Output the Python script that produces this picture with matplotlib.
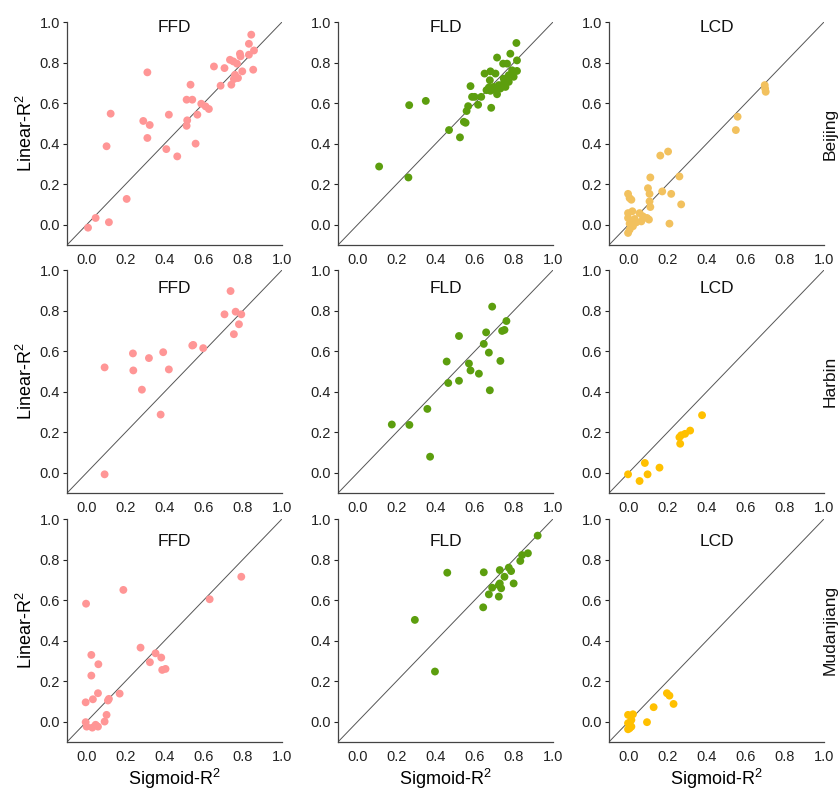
import matplotlib
matplotlib.use("Agg")
import matplotlib.pyplot as plt

plt.rcParams["font.family"] = ["Liberation Sans", "DejaVu Sans"]
plt.rcParams["mathtext.fontset"] = "custom"
plt.rcParams["mathtext.rm"] = "Liberation Sans"
plt.rcParams["mathtext.it"] = "Liberation Sans"
plt.rcParams["mathtext.default"] = "rm"

cities = ["Beijing", "Harbin", "Mudanjiang"]
indices = ["FFD", "FLD", "LCD"]

# Sigmoid-R2 (x) and Linear-R2 (y) per city / index
beijing_ffd_x = [0.843, 0.831, 0.857, 0.831, 0.785, 0.788, 0.734, 0.751, 0.652, 0.706,
                 0.853, 0.797, 0.775, 0.754, 0.741, 0.686, 0.311, 0.123, 0.532, 0.512,
                 0.541, 0.587, 0.609, 0.626, 0.421, 0.567, 0.290, 0.323, 0.515, 0.512,
                 0.102, 0.311, 0.558, 0.408, 0.464, 0.205, 0.046, 0.007, 0.114, 0.770,
                 0.760]
beijing_ffd_y = [0.938, 0.893, 0.860, 0.839, 0.844, 0.831, 0.814, 0.806, 0.781, 0.773,
                 0.765, 0.757, 0.724, 0.719, 0.691, 0.686, 0.752, 0.548, 0.691, 0.617,
                 0.617, 0.597, 0.584, 0.571, 0.543, 0.543, 0.512, 0.492, 0.515, 0.488,
                 0.387, 0.428, 0.400, 0.373, 0.337, 0.127, 0.033, -0.015, 0.012, 0.795,
                 0.740]

beijing_fld_x = [0.813, 0.782, 0.714, 0.745, 0.816, 0.578, 0.586, 0.599, 0.633, 0.617,
                 0.566, 0.558, 0.544, 0.553, 0.468, 0.524, 0.684, 0.714, 0.264, 0.349,
                 0.110, 0.260, 0.650, 0.680, 0.706, 0.677, 0.748, 0.791, 0.816, 0.799,
                 0.774, 0.748, 0.723, 0.697, 0.672, 0.731, 0.757, 0.680, 0.711, 0.660,
                 0.774, 0.765]
beijing_fld_y = [0.897, 0.844, 0.825, 0.795, 0.811, 0.684, 0.631, 0.631, 0.631, 0.592,
                 0.585, 0.561, 0.508, 0.503, 0.467, 0.431, 0.577, 0.644, 0.590, 0.611,
                 0.287, 0.233, 0.746, 0.757, 0.746, 0.713, 0.721, 0.762, 0.759, 0.730,
                 0.705, 0.697, 0.689, 0.680, 0.677, 0.672, 0.680, 0.661, 0.661, 0.664,
                 0.738, 0.795]

beijing_lcd_x = [0.697, 0.699, 0.702, 0.558, 0.549, 0.162, 0.202, 0.111, 0.260, 0.099,
                 0.107, 0.172, 0.218, -0.003, 0.005, 0.014, 0.269, 0.107, 0.111, 0.209,
                 -0.003, 0.019, -0.003, 0.056, 0.073, 0.094, 0.104, 0.065, 0.039, 0.022,
                 0.005, -0.003, 0.005, 0.031]
beijing_lcd_y = [0.689, 0.672, 0.656, 0.533, 0.467, 0.341, 0.361, 0.233, 0.238, 0.180,
                 0.152, 0.164, 0.152, 0.152, 0.131, 0.123, 0.100, 0.115, 0.087, 0.005,
                 0.057, 0.066, 0.033, 0.057, 0.041, 0.033, 0.025, 0.016, 0.011, -0.008,
                 -0.025, -0.041, 0.005, 0.028]

harbin_ffd_x = [0.737, 0.706, 0.763, 0.792, 0.780, 0.754, 0.597, 0.546, 0.541, 0.392,
                0.237, 0.319, 0.092, 0.239, 0.421, 0.283, 0.379, 0.092]
harbin_ffd_y = [0.897, 0.782, 0.795, 0.782, 0.733, 0.684, 0.615, 0.631, 0.628, 0.595,
                0.589, 0.566, 0.520, 0.505, 0.510, 0.410, 0.287, -0.008]

harbin_fld_x = [0.689, 0.762, 0.740, 0.752, 0.658, 0.519, 0.646, 0.672, 0.456, 0.731,
                0.570, 0.578, 0.621, 0.464, 0.519, 0.677, 0.357, 0.175, 0.265, 0.371]
harbin_fld_y = [0.820, 0.749, 0.700, 0.705, 0.693, 0.675, 0.636, 0.593, 0.549, 0.552,
                0.539, 0.505, 0.489, 0.443, 0.454, 0.407, 0.315, 0.238, 0.236, 0.079]

harbin_lcd_x = [0.376, 0.315, 0.289, 0.269, 0.260, 0.264, 0.083, 0.158, -0.003, 0.097,
                0.056]
harbin_lcd_y = [0.284, 0.208, 0.192, 0.185, 0.175, 0.143, 0.048, 0.025, -0.008, -0.008,
                -0.041]

mudanjiang_ffd_x = [0.792, 0.630, 0.188, -0.003, 0.276, 0.353, 0.324, 0.382, 0.387, 0.404,
                    0.024, 0.060, 0.024, 0.058, 0.032, -0.005, 0.169, 0.114, 0.109, 0.102,
                    0.092, -0.005, 0.000, 0.029, 0.046, 0.058]
mudanjiang_ffd_y = [0.715, 0.604, 0.650, 0.582, 0.365, 0.337, 0.293, 0.316, 0.255, 0.260,
                    0.329, 0.283, 0.227, 0.140, 0.110, 0.095, 0.138, 0.112, 0.104, 0.033,
                    0.000, -0.003, -0.025, -0.030, -0.016, -0.025]

mudanjiang_fld_x = [0.922, 0.872, 0.842, 0.833, 0.774, 0.728, 0.786, 0.646, 0.459, 0.752,
                    0.799, 0.728, 0.723, 0.735, 0.689, 0.672, 0.723, 0.643, 0.293, 0.396]
mudanjiang_fld_y = [0.918, 0.831, 0.822, 0.793, 0.760, 0.748, 0.743, 0.737, 0.735, 0.715,
                    0.682, 0.682, 0.674, 0.658, 0.661, 0.628, 0.617, 0.564, 0.502, 0.247]

mudanjiang_lcd_x = [0.196, 0.209, 0.230, 0.128, 0.094, -0.003, 0.022, 0.014, 0.005, 0.014,
                    -0.003, 0.005, -0.003]
mudanjiang_lcd_y = [0.140, 0.128, 0.087, 0.071, -0.003, 0.033, 0.036, 0.008, -0.008, -0.025,
                    -0.038, -0.033, -0.008]

series = [
    [(beijing_ffd_x, beijing_ffd_y), (beijing_fld_x, beijing_fld_y), (beijing_lcd_x, beijing_lcd_y)],
    [(harbin_ffd_x, harbin_ffd_y), (harbin_fld_x, harbin_fld_y), (harbin_lcd_x, harbin_lcd_y)],
    [(mudanjiang_ffd_x, mudanjiang_ffd_y), (mudanjiang_fld_x, mudanjiang_fld_y),
     (mudanjiang_lcd_x, mudanjiang_lcd_y)],
]

colours = [
    ["#ff9696", "#5c9e0e", "#f2c15e"],
    ["#ff9696", "#5c9e0e", "#ffc000"],
    ["#ff9696", "#5c9e0e", "#ffc000"],
]

ticks = [0.0, 0.2, 0.4, 0.6, 0.8, 1.0]
ax_left = [0.080, 0.403, 0.726]
ax_bottom = [0.690, 0.376, 0.061]
ax_w, ax_h = 0.256, 0.282
title_y = [0.977, 0.919, 0.897]

fig = plt.figure(figsize=(8.39, 7.90), dpi=100)

for r, city in enumerate(cities):
    for c, name in enumerate(indices):
        ax = fig.add_axes([ax_left[c], ax_bottom[r], ax_w, ax_h])
        xs, ys = series[r][c]
        ax.plot([-0.1, 1.0], [-0.1, 1.0], color="#555555", lw=0.7, zorder=1)
        ax.scatter(xs, ys, s=32, color=colours[r][c], edgecolors="none", zorder=3)
        ax.set_xlim(-0.1, 1.0)
        ax.set_ylim(-0.1, 1.0)
        ax.set_xticks(ticks)
        ax.set_yticks(ticks)
        ax.set_xticklabels([f"{t:.1f}" for t in ticks])
        ax.set_yticklabels([f"{t:.1f}" for t in ticks])
        for side in ("top", "right"):
            ax.spines[side].set_visible(False)
        for side in ("left", "bottom"):
            ax.spines[side].set_color("#444444")
            ax.spines[side].set_linewidth(0.9)
        ax.tick_params(axis="y", length=3, width=0.8, pad=2, labelsize=10.5,
                       colors="#222222")
        ax.tick_params(axis="x", length=0, pad=6, labelsize=10.5, colors="#222222")
        ax.text(0.5, title_y[r], name, transform=ax.transAxes, ha="center", va="center",
                fontsize=12.5, color="#111111")
        if c == 0:
            ax.set_ylabel("Linear-R$^2$", fontsize=13, labelpad=3)
        if r == 2:
            ax.set_xlabel("Sigmoid-R$^2$", fontsize=13, labelpad=2)
        if c == 2:
            ax.text(1.03, 0.5, city, transform=ax.transAxes, rotation=90,
                    ha="center", va="center", fontsize=12.5, color="#111111")

fig.savefig("out.png", dpi=100)
